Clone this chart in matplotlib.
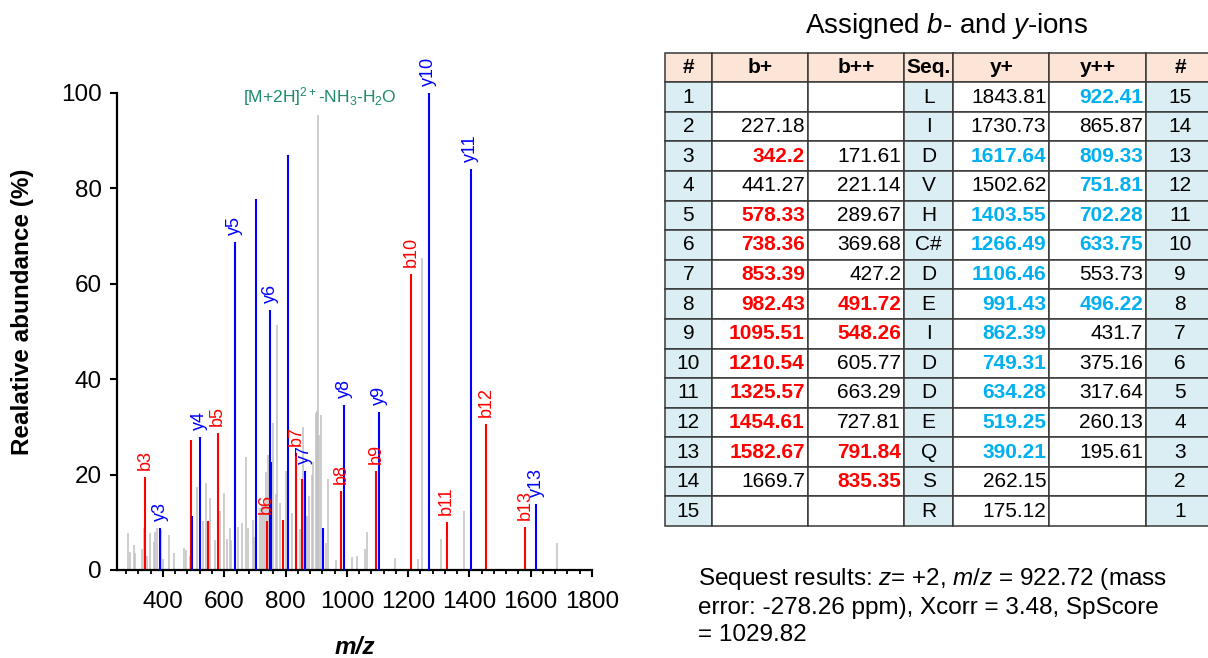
import matplotlib
matplotlib.use('Agg')
import matplotlib.pyplot as plt
from matplotlib.ticker import MultipleLocator
from matplotlib.table import Table

plt.rcParams['font.family'] = ['Liberation Sans', 'DejaVu Sans']
plt.rcParams['mathtext.fontset'] = 'custom'
plt.rcParams['mathtext.rm'] = 'Liberation Sans'
plt.rcParams['mathtext.it'] = 'Liberation Sans:italic'
plt.rcParams['mathtext.bf'] = 'Liberation Sans:bold'

# ---------------- spectrum data ----------------
gray_mz = [285.5, 293, 304, 308.4, 332, 337.8, 347.7, 358.6, 370.6, 374.9, 380.4, 394.5,
           400, 418.5, 434.9, 467.6, 474.2, 487.2, 511.2, 532, 539.6, 552.7, 569, 585.4,
           598.5, 609.4, 618.1, 623.6, 645.4, 656.3, 670.4, 678.1, 692.3, 696.6, 716.2,
           722.8, 730.4, 735.9, 742.4, 757.7, 768.6, 773, 781.7, 800.2, 819.8, 847.1,
           855.8, 868.9, 877.6, 885.3, 890.7, 899.5, 903.8, 907.1, 910.4, 915.8, 932.2,
           939.8, 964.9, 1016, 1032.5, 1060, 1066, 1156, 1232, 1246, 1307, 1383, 1685]
gray_int = [7.7, 3.8, 5.2, 3.6, 4.5, 8.8, 3.0, 7.7, 5.9, 7.9, 8.8, 8.4,
            2.4, 7.4, 3.6, 4.7, 4.1, 3.0, 17.4, 10.2, 18.3, 15.0, 6.3, 12.4,
            16.1, 6.6, 8.8, 6.3, 9.1, 9.9, 23.6, 8.8, 10.4, 7.0, 13.1,
            13.6, 14.1, 20.6, 24.1, 30.9, 16.0, 51.4, 14.0, 20.7, 12.0, 8.5,
            30.0, 11.3, 15.6, 19.9, 22.7, 32.9, 33.4, 95.4, 28.4, 32.4, 5.6,
            19.1, 2.0, 2.7, 2.9, 4.3, 7.9, 2.6, 2.4, 65.4, 6.4, 12.4, 5.6]

b_mz = [342.2, 491.72, 548.26, 578.33, 738.36, 791.84, 835.35, 853.39, 982.43,
        1095.51, 1210.54, 1325.57, 1454.61, 1582.67]
b_int = [19.5, 27.2, 10.2, 28.8, 10.2, 10.4, 24.5, 19.1, 16.5,
         20.7, 62.0, 10.0, 30.7, 9.1]
b_lab = ['b3', '', '', 'b5', 'b6', '', '', 'b7', 'b8',
         'b9', 'b10', 'b11', 'b12', 'b13']

y_mz = [390.21, 496.22, 519.25, 634.28, 702.28, 751.81, 749.31, 809.33, 862.39,
        922.41, 991.43, 1106.46, 1266.49, 1403.55, 1617.64]
y_int = [8.8, 11.3, 27.9, 68.8, 77.7, 22.6, 54.5, 87.0, 20.7,
         8.8, 34.5, 33.1, 100.0, 84.1, 13.8]
y_lab = ['y3', '', 'y4', 'y5', '', '', 'y6', '', 'y7',
         '', 'y8', 'y9', 'y10', 'y11', 'y13']

precursor_label = r'[M+2H]$^{2+}$-NH$_3$-H$_2$O'
precursor_mz = 907.1

x_ticks = [400, 600, 800, 1000, 1200, 1400, 1600, 1800]
y_ticks = [0, 20, 40, 60, 80, 100]

# ---------------- table data ----------------
headers = ['#', 'b+', 'b++', 'Seq.', 'y+', 'y++', '#']
row_num = [str(i) for i in range(1, 16)]
b_plus = ['', '227.18', '342.2', '441.27', '578.33', '738.36', '853.39', '982.43',
          '1095.51', '1210.54', '1325.57', '1454.61', '1582.67', '1669.7', '']
b_plus2 = ['', '', '171.61', '221.14', '289.67', '369.68', '427.2', '491.72',
           '548.26', '605.77', '663.29', '727.81', '791.84', '835.35', '']
seq = ['L', 'I', 'D', 'V', 'H', 'C#', 'D', 'E', 'I', 'D', 'D', 'E', 'Q', 'S', 'R']
y_plus = ['1843.81', '1730.73', '1617.64', '1502.62', '1403.55', '1266.49', '1106.46',
          '991.43', '862.39', '749.31', '634.28', '519.25', '390.21', '262.15', '175.12']
y_plus2 = ['922.41', '865.87', '809.33', '751.81', '702.28', '633.75', '553.73',
           '496.22', '431.7', '375.16', '317.64', '260.13', '195.61', '', '']
y_num = [str(i) for i in range(15, 0, -1)]
b_plus_hit = [3, 5, 6, 7, 8, 9, 10, 11, 12, 13]
b_plus2_hit = [8, 9, 13, 14]
y_plus_hit = [3, 5, 6, 7, 8, 9, 10, 11, 12, 13]
y_plus2_hit = [1, 3, 4, 5, 6, 8]

RED = '#ff0000'
BLUE = '#0000ff'
LBLUE = '#00b0f0'

W, H = 1208, 658
fig = plt.figure(figsize=(W / 100, H / 100), dpi=100)

# ---------------- spectrum ----------------
ax = fig.add_axes([117 / W, 1 - 570 / H, 475 / W, 477 / H])
ax.vlines(gray_mz, 0, gray_int, color='#c0c0c0', lw=1.1, zorder=1)
ax.vlines(b_mz, 0, b_int, color=RED, lw=1.5, zorder=2)
ax.vlines(y_mz, 0, y_int, color=BLUE, lw=1.5, zorder=3)


def annotate_ions(mzs, ints, labs, color):
    for m, i, lab in zip(mzs, ints, labs):
        if not lab:
            continue
        near = [(ii, mm) for mm, ii in zip(mzs, ints) if abs(mm - m) <= 20]
        top, xpos = max(near)
        ax.annotate(lab, (xpos, top), xytext=(0, 5), textcoords='offset points',
                    rotation=90, ha='center', va='bottom', color=color,
                    fontsize=13, annotation_clip=False)


annotate_ions(b_mz, b_int, b_lab, RED)
annotate_ions(y_mz, y_int, y_lab, BLUE)
ax.text(precursor_mz + 6, 99.3, precursor_label, color='#1b8a6b', fontsize=12.5,
        ha='center', va='center')

ax.set_xlim(250, 1800)
ax.set_ylim(0, 100)
ax.set_xticks(x_ticks)
ax.set_yticks(y_ticks)
ax.xaxis.set_minor_locator(MultipleLocator(40))
for s in ['top', 'right']:
    ax.spines[s].set_visible(False)
for s in ['left', 'bottom']:
    ax.spines[s].set_linewidth(1.6)
ax.tick_params(axis='both', which='major', length=5, width=1.5, labelsize=17.5)
ax.tick_params(axis='x', which='major', pad=10)
ax.tick_params(axis='y', which='major', pad=6)
ax.tick_params(axis='x', which='minor', length=3, width=1.3)
ax.set_xlabel('m/z', fontsize=17.5, fontweight='bold', fontstyle='italic')
ax.xaxis.set_label_coords(0.5, -0.163)
ax.xaxis.label.set_va('center')
ax.set_ylabel('Realative abundance (%)', fontsize=17.5, fontweight='bold')
ax.yaxis.set_label_coords(-0.198, 0.541)
ax.yaxis.label.set_va('center')

# ---------------- table ----------------
fig.text(947 / W, 1 - 26 / H, r'Assigned $\mathit{b}$- and $\mathit{y}$-ions',
         fontsize=20, ha='center', va='center')

tax = fig.add_axes([665 / W, 1 - 526 / H, 549 / W, (526 - 52.7) / H])
tax.axis('off')
col_px = [46.7, 96, 96.3, 49.3, 96, 96.7, 68]
tot = sum(col_px)
col_w = [c / tot for c in col_px]
tbl = Table(tax, bbox=[0, 0, 1, 1])
nrows = 16
rh = 1 / nrows
HEAD = '#fce4d6'
SIDE = '#daeef3'
EDGE = '#383838'
columns = [row_num, b_plus, b_plus2, seq, y_plus, y_plus2, y_num]
hits = {1: (b_plus_hit, RED), 2: (b_plus2_hit, RED), 4: (y_plus_hit, LBLUE), 5: (y_plus2_hit, LBLUE)}
for c, h in enumerate(headers):
    cell = tbl.add_cell(0, c, col_w[c], rh, text=h, loc='center', facecolor=HEAD, edgecolor=EDGE)
    cell.get_text().set_fontweight('bold')
for r in range(15):
    for c in range(7):
        val = columns[c][r]
        if c in (0, 3, 6):
            cell = tbl.add_cell(r + 1, c, col_w[c], rh, text=val, loc='center',
                                facecolor=SIDE, edgecolor=EDGE)
        else:
            cell = tbl.add_cell(r + 1, c, col_w[c], rh, text=val, loc='right',
                                facecolor='white', edgecolor=EDGE)
            cell.PAD = 0.03
            hit_rows, col = hits[c]
            if (r + 1) in hit_rows:
                cell.get_text().set_color(col)
                cell.get_text().set_fontweight('bold')
for cell in tbl.get_celld().values():
    cell.set_linewidth(1.1)
tbl.auto_set_font_size(False)
tbl.set_fontsize(15)
tax.add_table(tbl)

fig.text(698 / W, 1 - 566 / H,
         'Sequest results: $z$= +2, $m/z$ = 922.72 (mass\n'
         'error: -278.26 ppm), Xcorr = 3.48, SpScore\n'
         '= 1029.82',
         fontsize=17.5, ha='left', va='top', linespacing=1.28)

fig.savefig('out.png', dpi=100)
